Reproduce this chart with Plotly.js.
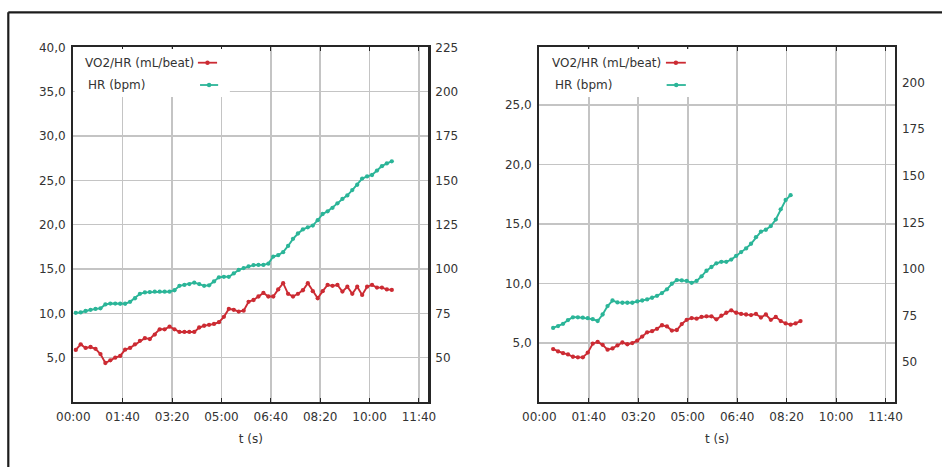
<!DOCTYPE html>
<html>
<head>
<meta charset="utf-8">
<script src="https://cdn.plot.ly/plotly-3.0.1.min.js"></script>
<style>
html,body{margin:0;padding:0;background:#fff;}
#chart{width:942px;height:467px;}
</style>
</head>
<body>
<div id="chart"></div>
<script>
// ---- Data (time in seconds) ----
const tLeft = [5,15,25,35,45,55,65,75,85,95,105,115,125,135,145,155,165,175,185,195,205,215,225,235,245,255,265,275,285,295,305,315,325,335,345,355,365,375,385,395,405,415,425,435,445,455,465,475,485,495,505,515,525,535,545,555,565,575,585,595,605,615,625,635,645];
const hrLeft = [75.3,75.5,76.3,77.0,77.5,77.8,80.0,80.5,80.5,80.4,
  80.4,81.5,83.5,86.0,86.8,87.0,87.2,87.2,87.2,87.2,
  88.0,90.5,91.0,91.5,92.3,91.5,90.5,90.8,93.0,95.3,
  95.6,95.6,97.5,99.5,100.5,101.5,102.2,102.3,102.3,103.0,
  107.0,107.8,109.5,113.0,117.0,120.0,122.3,123.5,124.5,127.5,
  131.0,132.5,134.5,137.0,139.5,141.5,144.5,147.5,151.0,152.2,
  153.0,155.5,158.0,159.5,160.7];
const vo2hrLeft = [5.87,6.5,6.1,6.2,6.0,5.4,4.4,4.7,5.0,5.2,
  5.9,6.1,6.5,6.9,7.2,7.1,7.6,8.2,8.2,8.5,
  8.2,7.9,7.9,7.9,7.9,8.4,8.6,8.7,8.8,9.0,
  9.6,10.5,10.4,10.2,10.3,11.3,11.5,11.9,12.3,11.9,
  11.9,12.7,13.4,12.2,11.9,12.2,12.6,13.4,12.5,11.7,
  12.5,13.2,13.1,13.2,12.45,13.0,12.2,13.0,12.07,13.0,
  13.2,12.9,12.9,12.7,12.64];

const tRightHR = [28,38,48,58,68,78,88,98,108,118,128,138,148,158,168,178,188,198,208,218,228,238,248,258,268,278,288,298,308,318,328,338,348,358,368,378,388,398,408,418,428,438,448,458,468,478,488,498,508];
const hrRight = [68.3,69.3,70.5,72.5,74.0,74.0,73.8,73.5,73.0,72.0,
  75.5,80.0,83.0,82.0,81.8,81.8,81.8,82.5,83.0,83.6,
  84.5,85.5,87.0,89.0,92.0,94.0,93.8,93.5,92.5,93.5,
  96.0,99.0,101.0,103.0,103.8,103.8,105.0,107.0,109.0,111.0,
  113.5,117.0,120.0,121.0,123.0,126.5,132.0,137.0,139.6];
const tRightVO2 = [28,38,48,58,68,78,88,98,108,118,128,138,148,158,168,178,188,198,208,218,228,238,248,258,268,278,288,298,308,318,328,338,348,358,368,378,388,398,408,418,428,438,448,458,468,478,488,498,508,518,528];
const vo2hrRight = [4.5,4.3,4.15,4.05,3.85,3.8,3.8,4.2,4.95,5.1,
  4.85,4.45,4.55,4.8,5.05,4.9,5.0,5.2,5.55,5.9,
  6.0,6.2,6.5,6.4,6.05,6.1,6.6,6.95,7.1,7.05,
  7.2,7.25,7.25,7.0,7.3,7.55,7.75,7.55,7.45,7.4,
  7.35,7.45,7.15,7.4,6.95,7.2,6.85,6.65,6.55,6.65,
  6.85];

const timeTickVals = [0,100,200,300,400,500,600,700];
const timeTickText = ['00:00','01:40','03:20','05:00','06:40','08:20','10:00','11:40'];
const leftYTicksA = [5,10,15,20,25,30,35,40];
const rightYTicksA = [50,75,100,125,150,175,200,225];
const leftYTicksB = [5,10,15,20,25];
const rightYTicksB = [50,75,100,125,150,175,200];
const seriesNames = ['VO2/HR (mL/beat)','HR (bpm)'];

// ---- Styles ----
const RED = '#cc2b33';
const GREEN = '#2bb598';
const FONT = 'DejaVu Sans, Arial, sans-serif';
const TXT = '#333333';
const GRID = '#c4c4c4';
const FRAME = '#262626';

function tr(x, y, xa, ya, color, name) {
  return {x: x, y: y, xaxis: xa, yaxis: ya, type: 'scatter', mode: 'lines+markers', name: name,
    line: {color: color, width: 1.9}, marker: {color: color, size: 4.3}, showlegend: false, hoverinfo: 'skip'};
}

const data = [
  tr(tLeft, hrLeft, 'x', 'y2', GREEN, seriesNames[1]),
  tr(tLeft, vo2hrLeft, 'x', 'y', RED, seriesNames[0]),
  tr(tRightHR, hrRight, 'x2', 'y4', GREEN, seriesNames[1]),
  tr(tRightVO2, vo2hrRight, 'x2', 'y3', RED, seriesNames[0])
];

const tickFont = {family: FONT, size: 12, color: TXT};
function xAx(domain, anchor) {
  return {domain: domain, anchor: anchor, range: [0, 719], tickvals: timeTickVals, ticktext: timeTickText,
    showgrid: true, gridcolor: GRID, gridwidth: 1.6, showline: true, linecolor: FRAME, linewidth: 2.2,
    mirror: 'ticks', ticks: 'inside', ticklen: 4, tickcolor: FRAME, zeroline: false, tickfont: tickFont,
    ticklabelstandoff: 2,
    title: {text: 't (s)', font: {family: FONT, size: 12, color: TXT}, standoff: 12}, automargin: false};
}
function yLeft(domain, anchor, range, ticks) {
  return {domain: domain, anchor: anchor, range: range, tickvals: ticks, tickformat: '.1f',
    showgrid: true, gridcolor: GRID, gridwidth: 1.6, showline: true, linecolor: FRAME, linewidth: 2.2,
    mirror: true, ticks: '', zeroline: false, tickfont: tickFont, ticklabelstandoff: 3, automargin: false};
}
function yRight(over, anchor, range, ticks) {
  return {overlaying: over, anchor: anchor, side: 'right', range: range, tickvals: ticks,
    showgrid: false, showline: false, ticks: '', zeroline: false, tickfont: tickFont,
    ticklabelstandoff: 6, automargin: false};
}

const yDom = [0.1392, 0.8987];
const layout = {
  width: 942, height: 467,
  margin: {l: 0, r: 0, t: 0, b: 0},
  paper_bgcolor: '#ffffff', plot_bgcolor: '#ffffff',
  separators: ',.',
  showlegend: false,
  font: {family: FONT, size: 12, color: TXT},
  xaxis: xAx([0.0778, 0.4547], 'y'),
  yaxis: yLeft(yDom, 'x', [0, 40], leftYTicksA),
  yaxis2: yRight('y', 'x', [25, 225], rightYTicksA),
  xaxis2: xAx([0.5725, 0.9501], 'y3'),
  yaxis3: yLeft(yDom, 'x2', [0.05, 29.85], leftYTicksB),
  yaxis4: yRight('y3', 'x2', [28.5, 219], rightYTicksB),
  shapes: [],
  annotations: []
};

// outer frame (top and left)
layout.shapes.push({type: 'line', xref: 'paper', yref: 'paper', x0: 8.3/942, x1: 1, y0: 1 - 12.3/467, y1: 1 - 12.3/467, line: {color: '#1c1c1c', width: 2.2}});
layout.shapes.push({type: 'line', xref: 'paper', yref: 'paper', x0: 8.3/942, x1: 8.3/942, y0: 0, y1: 1 - 12.3/467, line: {color: '#1c1c1c', width: 2.2}});

// custom legends (text left, symbol right)
function addLegend(xr, yr, boxRight, t1x, t2x, l1, l2) {
  layout.shapes.push({type: 'rect', xref: xr + ' domain', yref: yr + ' domain', x0: 0.004, x1: boxRight, y0: 0.86, y1: 0.995,
    fillcolor: '#ffffff', line: {width: 0}, layer: 'above'});
  const rows = [[seriesNames[0], RED, 0.9566, t1x, l1], [seriesNames[1], GREEN, 0.8937, t2x, l2]];
  rows.forEach(r => {
    layout.annotations.push({xref: xr + ' domain', yref: yr + ' domain', x: r[3], y: r[2], xanchor: 'left', yanchor: 'middle',
      text: r[0], showarrow: false, font: {family: FONT, size: 12, color: TXT}});
    layout.shapes.push({type: 'line', xref: xr + ' domain', yref: yr + ' domain', x0: r[4][0], x1: r[4][1], y0: r[2], y1: r[2],
      line: {color: r[1], width: 1.8}, layer: 'above'});
    const cx = (r[4][0] + r[4][1]) / 2;
    layout.shapes.push({type: 'circle', xref: xr + ' domain', yref: yr + ' domain', xsizemode: 'pixel', ysizemode: 'pixel',
      xanchor: cx, yanchor: r[2], x0: -2.2, x1: 2.2, y0: -2.2, y1: 2.2, fillcolor: r[1], line: {width: 0}, layer: 'above'});
  });
}
addLegend('x', 'y', 0.441, 0.028, 0.036, [0.351, 0.405], [0.357, 0.408]);
addLegend('x2', 'y3', 0.43, 0.030, 0.039, [0.356, 0.412], [0.358, 0.412]);

Plotly.newPlot('chart', data, layout, {staticPlot: true, displayModeBar: false});
</script>
</body>
</html>
